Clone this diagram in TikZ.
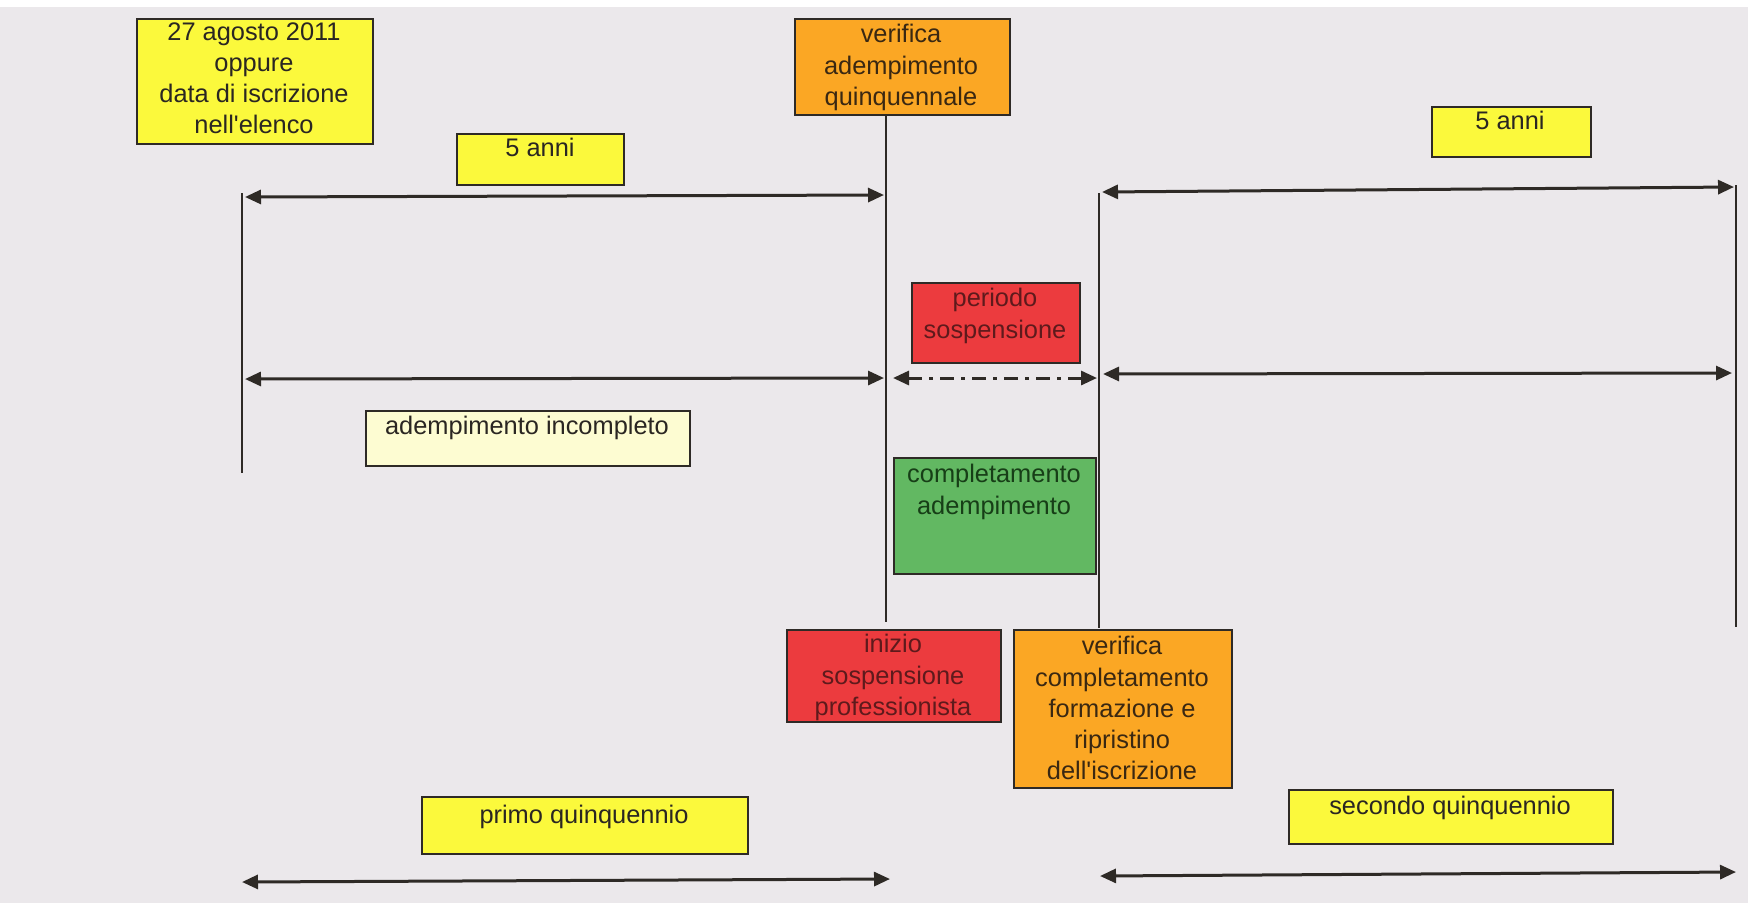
\documentclass[tikz,border=0pt]{standalone}
\usepackage{fontspec}
\setmainfont{Liberation Sans}
\usetikzlibrary{arrows.meta}
\definecolor{bg}{HTML}{EBE8EB}
\definecolor{ylw}{HTML}{FBF93C}
\definecolor{lylw}{HTML}{FDFCD2}
\definecolor{org}{HTML}{FBA724}
\definecolor{rd}{HTML}{EC3B3E}
\definecolor{grn}{HTML}{62B862}
\definecolor{edge}{HTML}{2E2A26}
\definecolor{ink}{HTML}{2A2622}
\definecolor{redink}{HTML}{5E1A1C}
\definecolor{grnink}{HTML}{173E17}
\definecolor{orgink}{HTML}{3A2812}
\begin{document}
\begin{tikzpicture}[x=0.5pt,y=-0.5pt,
  box/.style={draw=edge, line width=0.9pt, inner sep=0pt, anchor=north west},
  txt/.style={anchor=north, align=center, inner sep=0pt, text=ink,
    font=\fontsize{12.7}{15.6}\selectfont},
  vline/.style={draw=edge, line width=1pt},
  arr/.style={draw=edge, line width=1.5pt,
    {Triangle[length=8pt,width=7pt]}-{Triangle[length=8pt,width=7pt]}},
  darr/.style={arr, dash pattern=on 7pt off 3.5pt on 2pt off 3.5pt}
]
\useasboundingbox (0,0) rectangle (1748,906);
\fill[white] (0,0) rectangle (1748,906);
\fill[bg] (0,7) rectangle (1748,903);

% boxes
\node[box, fill=ylw, minimum width=118pt, minimum height=62.5pt] (bA) at (136,18) {};
\node[txt] (tA) at (254,22) {27 agosto 2011\\oppure\\data di iscrizione\\nell\textquotesingle elenco};

\node[box, fill=ylw, minimum width=83.5pt, minimum height=25.5pt] (b5a) at (456,133) {};
\node[txt] (t5a) at (540,138) {5 anni};

\node[box, fill=org, minimum width=107.5pt, minimum height=48pt] (bV) at (794,18) {};
\node[txt, text=orgink] (tV) at (901,24) {verifica\\adempimento\\quinquennale};

\node[box, fill=ylw, minimum width=79.5pt, minimum height=25pt] (b5b) at (1431,106) {};
\node[txt] (t5b) at (1510,111) {5 anni};

\node[box, fill=rd, minimum width=84pt, minimum height=40pt] (bP) at (911,282) {};
\node[txt, text=redink] (tP) at (995,288) {periodo\\sospensione};

\node[box, fill=lylw, minimum width=162pt, minimum height=27.5pt] (bI) at (365,410) {};
\node[txt] (tI) at (527,416) {adempimento incompleto};

\node[box, fill=grn, minimum width=101pt, minimum height=58pt] (bC) at (893,457) {};
\node[txt, text=grnink] (tC) at (994,464) {completamento\\adempimento};

\node[box, fill=rd, minimum width=107pt, minimum height=46pt] (bS) at (786,629) {};
\node[txt, text=redink] (tS) at (893,634) {inizio\\sospensione\\professionista};

\node[box, fill=org, minimum width=109pt, minimum height=79pt] (bR) at (1013,629) {};
\node[txt, text=orgink] (tR) at (1122,636) {verifica\\completamento\\formazione e\\ripristino\\dell\textquotesingle iscrizione};

\node[box, fill=ylw, minimum width=163pt, minimum height=28.5pt] (bQ1) at (421,796) {};
\node[txt] (tQ1) at (584,805) {primo quinquennio};

\node[box, fill=ylw, minimum width=162pt, minimum height=27pt] (bQ2) at (1288,789) {};
\node[txt] (tQ2) at (1450,796) {secondo quinquennio};

% vertical lines
\coordinate (l1t) at (242,193);
\coordinate (l1b) at (242,473);
\coordinate (l2b) at (886,622);
\coordinate (l3t) at (1099,193);
\coordinate (l3b) at (1099,628);
\coordinate (l4t) at (1736,185);
\coordinate (l4b) at (1736,627);
\draw[vline] (l1t) -- (l1b);
\draw[vline] (bV.south -| l2b) -- (l2b);
\draw[vline] (l3t) -- (l3b);
\draw[vline] (l4t) -- (l4b);

% arrows
\coordinate (a1l) at (245,197);
\coordinate (a1r) at (884,195);
\coordinate (a2l) at (1102,192);
\coordinate (a2r) at (1734,187);
\coordinate (m1l) at (245,379);
\coordinate (m1r) at (884,378);
\coordinate (mdl) at (893,378);
\coordinate (mdr) at (1097,378);
\coordinate (m2l) at (1103,374);
\coordinate (m2r) at (1732,373);
\coordinate (b1l) at (242,882);
\coordinate (b1r) at (890,879);
\coordinate (b2l) at (1100,876);
\coordinate (b2r) at (1736,872);
\draw[arr] (a1l) -- (a1r);
\draw[arr] (a2l) -- (a2r);
\draw[arr] (m1l) -- (m1r);
\draw[darr] (mdl) -- (mdr);
\draw[arr] (m2l) -- (m2r);
\draw[arr] (b1l) -- (b1r);
\draw[arr] (b2l) -- (b2r);
\end{tikzpicture}
\end{document}
